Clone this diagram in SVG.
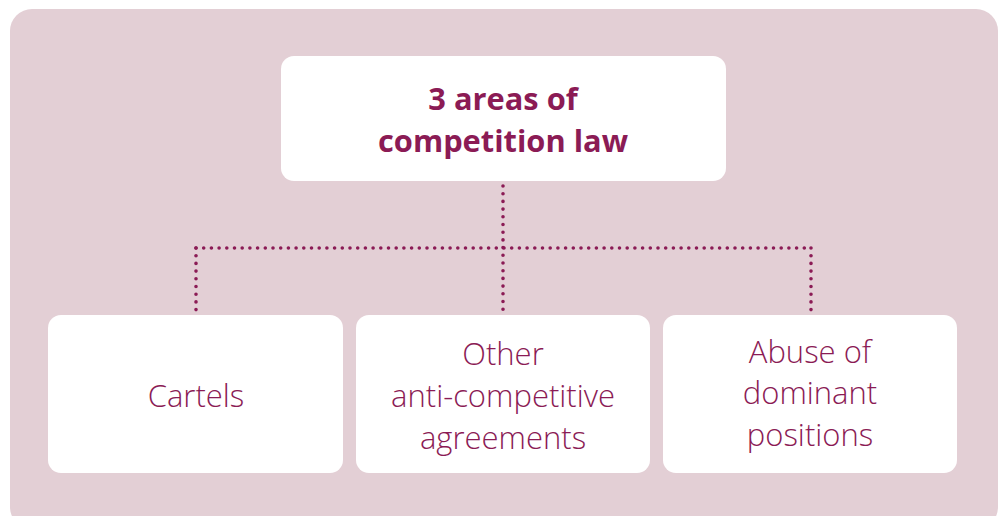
<svg xmlns="http://www.w3.org/2000/svg" width="1006" height="516" viewBox="0 0 1006 516">
<style>
.box{fill:#ffffff}
.t{font-family:"Open Sans","Noto Sans",sans-serif;fill:#8b1b55;text-anchor:middle}
.h{font-size:30.8px;font-weight:700}
.n{font-size:31px;font-weight:300}
.c{fill:none;stroke:#8b1b55;stroke-width:3.6;stroke-linecap:round;stroke-dasharray:0 7.7}
</style>
<rect x="0" y="0" width="1006" height="516" fill="#ffffff"/>
<rect x="10" y="9" width="988" height="520" rx="22" fill="#e3cfd5"/>
<g id="connectors">
<path class="c" d="M503 186 V312"/>
<path class="c" d="M196 248 H811"/>
<path class="c" d="M196 248 V310"/>
<path class="c" d="M811 248 V312"/>
</g>
<g id="root">
<rect class="box" x="281" y="56" width="445" height="125" rx="13"/>
<text class="t h" x="503" y="110">3 areas of</text>
<text class="t h" x="503" y="152">competition law</text>
</g>
<g id="cartels">
<rect class="box" x="48" y="315" width="295" height="158" rx="13"/>
<text class="t n" x="196" y="407">Cartels</text>
</g>
<g id="agreements">
<rect class="box" x="356" y="315" width="294" height="158" rx="13"/>
<text class="t n" x="503" y="365">Other</text>
<text class="t n" x="503" y="407">anti-competitive</text>
<text class="t n" x="503" y="449">agreements</text>
</g>
<g id="abuse">
<rect class="box" x="663" y="315" width="294" height="158" rx="13"/>
<text class="t n" x="810" y="363">Abuse of</text>
<text class="t n" x="810" y="404">dominant</text>
<text class="t n" x="810" y="446">positions</text>
</g>
</svg>
